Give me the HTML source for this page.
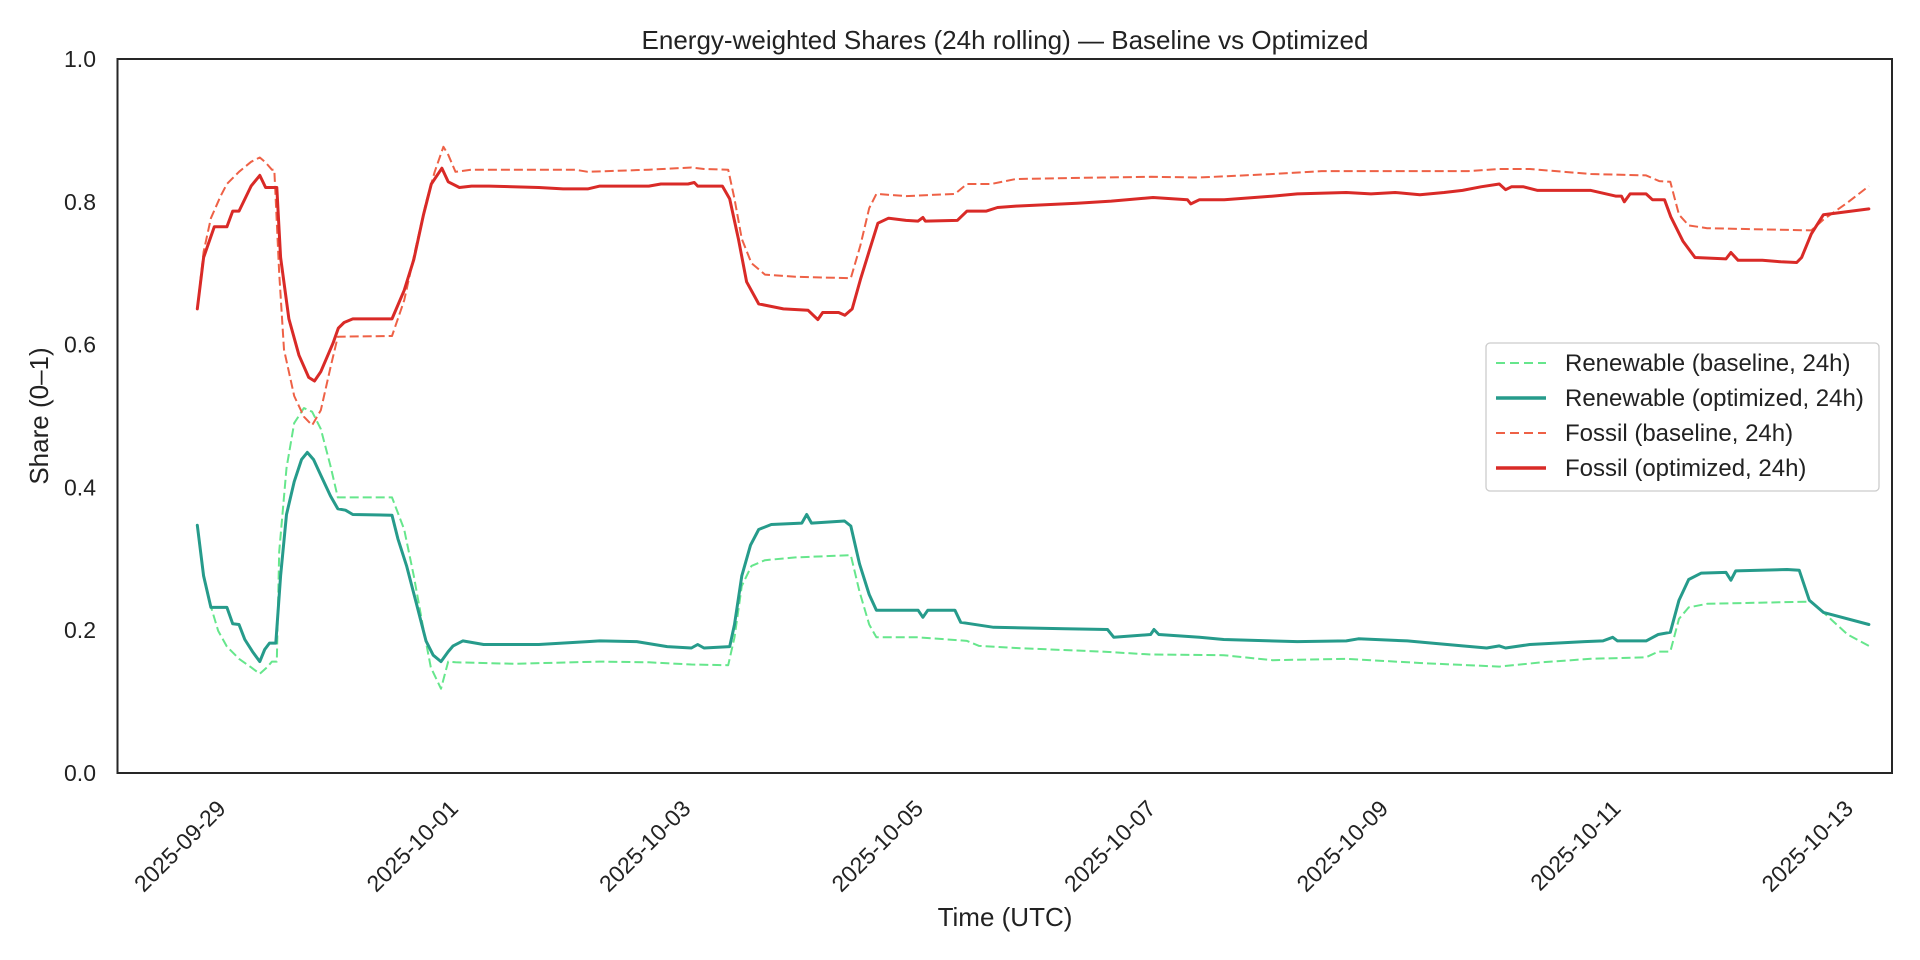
<!DOCTYPE html>
<html><head><meta charset="utf-8">
<style>
html,body{margin:0;padding:0;background:#fff;}
svg{display:block;font-family:"Liberation Sans",Arial,sans-serif;}
</style></head>
<body>
<svg id="chart" width="1920" height="960" viewBox="0 0 1920 960" xmlns="http://www.w3.org/2000/svg">
<rect x="0" y="0" width="1920" height="960" fill="#fff"/>
<text x="1005" y="49" font-size="26" text-anchor="middle" fill="#222">Energy-weighted Shares (24h rolling) — Baseline vs Optimized</text>
<text transform="translate(48,416) rotate(-90)" font-size="26" text-anchor="middle" fill="#222">Share (0–1)</text>
<text x="1005" y="926" font-size="26" text-anchor="middle" fill="#222">Time (UTC)</text>
<g id="yticks"></g>
<g id="xticks"></g>
<g id="series"></g>
<rect x="117.5" y="59" width="1774.5" height="714" fill="none" stroke="#262626" stroke-width="2"/>
<g id="legend">
<rect x="1486" y="343" width="393" height="148" rx="4" fill="#fff" stroke="#ccc" stroke-width="1.3"/>
</g>
</svg>
<script>
const renBaseT=[-5.3,-4,-2.5,-1,0.8,3.3,5.8,7.6,9.1,10.1,11.1,11.6,13.1,14.7,16.7,18.4,20.2,22.2,23.7,34.9,37.4,39.4,41.2,42.9,45,46.5,48,60.1,77.8,87.9,96.7,104.3,105.6,107.1,109.1,111.9,118.2,129.6,131.4,133.4,134.9,143.5,153.6,156.1,163.7,181.4,191.5,206.6,216.7,231.9,247.1,263.5,272.3,282.4,293.8,296.3,298.8,300.6,302.6,306.4,327.9,330.4,335.4,339.8];
const renBaseV=[.347,.276,.233,.199,.177,.160,.148,.139,.148,.156,.156,.310,.427,.490,.511,.506,.482,.430,.386,.386,.341,.276,.208,.148,.118,.156,.155,.153,.156,.155,.152,.151,.190,.262,.290,.298,.302,.305,.254,.208,.190,.190,.185,.178,.175,.170,.166,.165,.158,.160,.154,.149,.155,.160,.162,.170,.170,.216,.232,.237,.240,.225,.194,.178];
const renOptT=[-5.3,-4,-2.5,0.8,2,3.3,4.5,6.1,7.6,8.6,9.6,10.9,11.9,13.1,14.7,16.2,17.4,18.7,20.2,22.2,23.7,25.3,26.8,34.9,36.1,37.9,39.9,41.9,43.4,45,46.5,47.5,49.5,53.8,65.2,75.3,77.8,85.4,91.7,96.7,98,99.3,104.6,105.6,107.1,108.9,110.6,113.2,119.5,120.5,121.5,128.3,129.6,131.4,133.4,134.9,143.5,144.5,145.5,151.1,152.3,159.1,173.8,182.6,183.9,191.5,192.2,193.2,201.6,206.6,221.8,231.9,234.4,244.5,249.6,255.9,260.9,263.5,264.8,269.8,281.1,284.9,286.9,287.9,293.8,296.3,298.8,300.6,302.6,305.2,310.3,311.3,312.3,322.9,325.4,327.5,330.4,339.8];
const renOptV=[.347,.276,.232,.232,.209,.208,.187,.170,.156,.173,.182,.182,.276,.362,.408,.439,.449,.439,.417,.388,.370,.368,.362,.361,.328,.290,.238,.185,.165,.156,.170,.178,.185,.180,.180,.184,.185,.184,.177,.175,.180,.175,.177,.208,.276,.319,.341,.348,.350,.362,.350,.353,.346,.293,.250,.228,.228,.218,.228,.228,.211,.204,.202,.201,.190,.194,.201,.194,.190,.187,.184,.185,.188,.185,.182,.178,.175,.178,.175,.180,.184,.185,.190,.185,.185,.194,.197,.242,.271,.280,.281,.270,.283,.285,.284,.242,.225,.208];
const fosBaseT=[-5.3,-4,-2.5,-0.5,0.8,3.3,5.8,7.6,8.8,10.1,10.6,11.6,12.6,14.7,16.7,18.4,20.2,22.2,23.7,34.9,37.4,39.9,41.9,43.7,45.5,46.5,48,51.3,60.1,72.7,75.3,87.9,96.7,99.3,104.3,105.6,107.1,109.1,111.9,118.2,129.6,131.6,133.4,134.9,141,151.1,153.6,158.6,163.7,181.4,191.5,201.6,216.7,226.8,257.1,263.5,269.8,282.4,293.8,296.5,298.8,300.6,302.6,306.4,327.9,330.4,335.4,339.8];
const fosBaseV=[.650,.730,.777,.808,.825,.842,.856,.862,.855,.845,.845,.700,.593,.528,.499,.487,.508,.568,.611,.612,.662,.739,.799,.842,.877,.866,.842,.845,.845,.845,.842,.845,.848,.846,.845,.804,.748,.714,.698,.695,.693,.739,.791,.811,.808,.811,.825,.825,.832,.834,.835,.834,.839,.843,.843,.846,.846,.839,.837,.829,.828,.782,.767,.763,.760,.775,.799,.822];
const fosOptT=[-5.3,-4,-1.8,0.8,2,3.3,5.8,7.6,8.8,10.1,11.1,11.9,13.6,15.7,17.7,18.9,20.2,22.7,23.8,25,26.8,34.9,37.4,39.4,41.4,43,45.2,46.5,48.8,51.3,55,65.2,70.2,75.3,77.8,87.9,90.4,96,97.3,98,103.1,104.6,106.4,108.1,110.6,115.7,120.8,122.8,123.8,127.1,128.4,129.9,131.6,133.4,135.2,137.4,141,143.5,144.5,145,151.6,153.6,157.6,159.9,163.7,176.3,183.4,192,199.1,199.8,201.6,206.7,216.8,221.8,231.9,237,242,247.1,252.1,255.9,259.7,263.5,264.8,266,268.5,271.4,282.4,287.5,288.7,289.3,290.5,293.8,295.1,297.6,298.9,301.4,303.9,310.3,311.3,312.8,317.8,321.6,324.9,325.9,327.9,330.4,339.8];
const fosOptV=[.650,.722,.765,.765,.787,.787,.822,.837,.820,.820,.820,.722,.636,.585,.554,.549,.562,.602,.623,.631,.636,.636,.676,.719,.782,.825,.847,.828,.820,.822,.822,.820,.818,.818,.822,.822,.825,.825,.827,.822,.822,.804,.748,.688,.657,.650,.648,.635,.645,.645,.641,.650,.691,.731,.770,.777,.774,.773,.778,.773,.774,.787,.787,.792,.794,.798,.801,.806,.803,.797,.803,.803,.808,.811,.813,.811,.813,.810,.813,.816,.821,.825,.817,.821,.821,.816,.816,.808,.808,.800,.811,.811,.803,.803,.779,.745,.722,.720,.729,.718,.718,.716,.715,.722,.755,.782,.790];
const yTicks=[0,0.2,0.4,0.6,0.8,1.0];
const yTickLabels=["0.0","0.2","0.4","0.6","0.8","1.0"];
const xTickHours=[0,48,96,144,192,240,288,336];
const xTickLabels=["2025-09-29","2025-10-01","2025-10-03","2025-10-05","2025-10-07","2025-10-09","2025-10-11","2025-10-13"];
const legendLabels=["Renewable (baseline, 24h)","Renewable (optimized, 24h)","Fossil (baseline, 24h)","Fossil (optimized, 24h)"];

const NS="http://www.w3.org/2000/svg";
function xScale(h){return 223+h*(232.5/48);}
function yScale(v){return 773-v*714;}
function mk(tag,attrs,parent){const e=document.createElementNS(NS,tag);for(const k in attrs)e.setAttribute(k,attrs[k]);parent.appendChild(e);return e;}

const yg=document.getElementById('yticks');
yTicks.forEach((v,i)=>{
  const t=mk('text',{x:96,y:yScale(v)+8,'font-size':23,'text-anchor':'end',fill:'#222'},yg);
  t.textContent=yTickLabels[i];
  
  
});
const xg=document.getElementById('xticks');
xTickHours.forEach((h,i)=>{
  const x=xScale(h);
  const t=mk('text',{transform:`translate(${x+4},${810}) rotate(-45)`,'font-size':23,'text-anchor':'end',fill:'#222'},xg);
  t.textContent=xTickLabels[i];
  
  
});

const sg=document.getElementById('series');
const seriesDefs=[
  {t:renBaseT,v:renBaseV,color:'#66e68c',w:2,dash:'9,4',name:'renewable-baseline-line'},
  {t:fosBaseT,v:fosBaseV,color:'#ee6146',w:2,dash:'9,4',name:'fossil-baseline-line'},
  {t:renOptT,v:renOptV,color:'#269b8b',w:3,dash:null,name:'renewable-optimized-line'},
  {t:fosOptT,v:fosOptV,color:'#d92a27',w:3,dash:null,name:'fossil-optimized-line'}
];
seriesDefs.forEach(s=>{
  const pts=s.t.map((h,i)=>xScale(h).toFixed(1)+','+yScale(s.v[i]).toFixed(1)).join(' ');
  const a={points:pts,fill:'none',stroke:s.color,'stroke-width':s.w,'stroke-linejoin':'round','stroke-linecap':s.dash?'butt':'round'};
  if(s.dash)a['stroke-dasharray']=s.dash;
  const p=mk('polyline',a,sg);
  
  
});

const lg=document.getElementById('legend');
const legStyles=[['#66e68c',2,'9,5'],['#269b8b',3.5,null],['#ee6146',2,'9,5'],['#d92a27',3.5,null]];
const legY=[363,398,433,468];
legendLabels.forEach((lab,i)=>{
  const a={x1:1496,x2:1546,y1:legY[i],y2:legY[i],stroke:legStyles[i][0],'stroke-width':legStyles[i][1]};
  if(legStyles[i][2])a['stroke-dasharray']=legStyles[i][2];
  const l=mk('line',a,lg);
  
  
  const t=mk('text',{x:1565,y:legY[i]+8,'font-size':24,fill:'#222'},lg);
  t.textContent=lab;
  
  
});
</script>
</body></html>
